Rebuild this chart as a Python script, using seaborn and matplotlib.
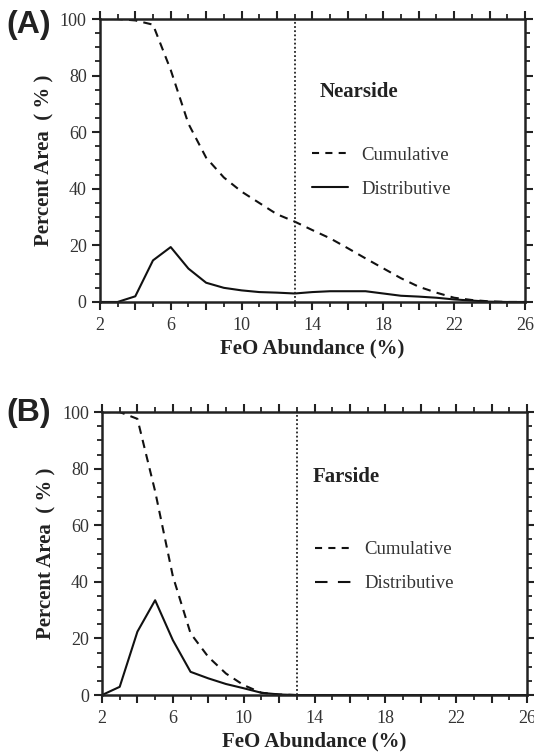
import numpy as np
import pandas as pd
import matplotlib
matplotlib.use("Agg")
import matplotlib.pyplot as plt
from matplotlib.lines import Line2D
from matplotlib.ticker import MultipleLocator, FixedLocator
import seaborn as sns

# FeO abundance bins (%)
feo = list(range(2, 27))

# Nearside percent area
near_cum = [100, 100, 99.5, 98, 82, 63, 51, 44, 39, 35, 31, 28.4, 25.4,
            22.5, 19, 15.4, 11.9, 8.4, 5.4, 3.3, 1.5, 0.7, 0.2, 0, 0]
near_dist = [0, 0, 2, 14.7, 19.4, 11.8, 6.8, 5, 4.1, 3.5, 3.3, 3.0, 3.5,
             3.8, 3.8, 3.8, 3.0, 2.2, 1.9, 1.5, 0.9, 0.5, 0.1, 0, 0]

# Farside percent area
far_cum = [100, 100, 97.6, 72, 42, 21.8, 13.5, 7.6, 3.5, 0.8, 0.2,
           0, 0, 0, 0, 0, 0, 0, 0, 0, 0, 0, 0, 0, 0]
far_dist = [0, 2.9, 22.4, 33.5, 19.4, 8.2, 5.9, 3.9, 2.4, 0.8, 0.2,
            0, 0, 0, 0, 0, 0, 0, 0, 0, 0, 0, 0, 0, 0]

xmajor = list(range(2, 27, 2))
xlabels = [str(t) if t in (2, 6, 10, 14, 18, 22, 26) else "" for t in xmajor]
yticks = [0, 20, 40, 60, 80, 100]
cutoff = 13

sns.set_style("ticks")
plt.rcParams['font.family'] = ['Liberation Serif', 'DejaVu Serif']
plt.rcParams['axes.linewidth'] = 1.8

fig = plt.figure(figsize=(5.34, 7.54), dpi=100)
axA = fig.add_axes([0.187, 0.5995, 0.796, 0.3753])
axB = fig.add_axes([0.191, 0.0782, 0.796, 0.3753])

near = pd.DataFrame({"FeO": feo, "cum": near_cum, "dist": near_dist})
far = pd.DataFrame({"FeO": feo, "cum": far_cum, "dist": far_dist})

def style_axis(ax):
    ax.set_xlim(2, 26)
    ax.set_ylim(0, 100)
    ax.set_xticks(xmajor, labels=xlabels)
    ax.xaxis.set_minor_locator(MultipleLocator(1))
    ax.set_yticks(yticks, labels=[str(t) for t in yticks])
    ax.yaxis.set_minor_locator(MultipleLocator(5))
    ax.tick_params(which="both", direction="out", top=True, right=True,
                   color="#222222", labelsize=13, labelcolor="#333333")
    ax.tick_params(which="major", length=6, width=1.5)
    ax.tick_params(which="minor", length=3.5, width=1.3)
    ax.tick_params(axis="x", pad=5)
    for s in ax.spines.values():
        s.set_visible(True)
        s.set_color("#222222")
    ax.set_xlabel("FeO Abundance (%)", fontsize=15, fontweight="bold",
                  color="#222222", labelpad=3)
    ax.set_ylabel("Percent Area  ( % )", fontsize=15, fontweight="bold",
                  color="#222222", labelpad=4)
    ax.axvline(cutoff, color="#222222", ls=(0, (1, 1.3)), lw=1.3)

leg_kw = dict(frameon=False, loc="center left", fontsize=13.5,
              handlelength=1.9, handletextpad=0.75, labelspacing=0.9,
              borderpad=0, borderaxespad=0, labelcolor="#333333")

# (A) Nearside
sns.lineplot(data=near, x="FeO", y="cum", ax=axA, color="#111111",
             lw=1.5, dashes=False, linestyle=(0, (4, 3)))
sns.lineplot(data=near, x="FeO", y="dist", ax=axA, color="#111111", lw=1.5)
style_axis(axA)
axA.text(0.518, 0.742, "Nearside", transform=axA.transAxes, fontsize=15,
         fontweight="bold", color="#222222", va="center")
hA = [Line2D([], [], color="#111111", lw=1.5, ls=(0, (3.4, 3))),
      Line2D([], [], color="#111111", lw=1.5)]
axA.legend(hA, ["Cumulative", "Distributive"],
           bbox_to_anchor=(0.499, 0.458), **leg_kw)

# (B) Farside
sns.lineplot(data=far, x="FeO", y="cum", ax=axB, color="#111111",
             lw=1.5, dashes=False, linestyle=(0, (4, 3)))
sns.lineplot(data=far, x="FeO", y="dist", ax=axB, color="#111111", lw=1.5)
style_axis(axB)
axB.text(0.496, 0.770, "Farside", transform=axB.transAxes, fontsize=15,
         fontweight="bold", color="#222222", va="center")
hB = [Line2D([], [], color="#111111", lw=1.5, ls=(0, (3.4, 3))),
      Line2D([], [], color="#111111", lw=1.5, ls=(0, (6, 5)))]
axB.legend(hB, ["Cumulative", "Distributive"],
           bbox_to_anchor=(0.501, 0.454), **leg_kw)

fig.text(0.012, 0.967, "(A)", fontsize=23, fontweight="bold",
         family=["Liberation Sans", "DejaVu Sans"], color="#222222", va="center")
fig.text(0.012, 0.452, "(B)", fontsize=23, fontweight="bold",
         family=["Liberation Sans", "DejaVu Sans"], color="#222222", va="center")

fig.savefig("out.png", dpi=100)
